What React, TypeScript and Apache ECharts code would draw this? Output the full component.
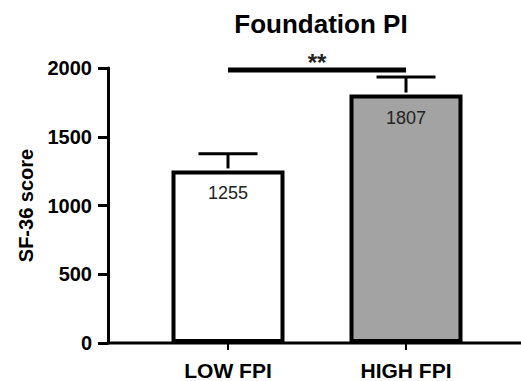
import React, { useEffect, useRef } from "react";
import * as echarts from "echarts";

const categories = ["LOW FPI", "HIGH FPI"];
const means = [1255, 1807];
const errorUpper = [1377, 1935];
const barColors = ["#ffffff", "#a3a3a3"];
const yMin = 0;
const yMax = 2000;
const yInterval = 500;
const significanceLevel = 1985;
const significanceLabel = "**";
const titleText = "Foundation PI";
const yAxisName = "SF-36 score";

export default function App() {
  const ref = useRef<HTMLDivElement>(null);
  useEffect(() => {
    document.body.style.margin = "0";
    const chart = echarts.init(ref.current!, null, { renderer: "svg" });
    const font = "'Liberation Sans', Arial, sans-serif";
    const W = 521;
    const gridLeft = 139, gridRight = 26, gridTop = 68, gridBottom = 37;
    const yOffset = 31;
    chart.setOption({
      animation: false,
      backgroundColor: "#ffffff",
      title: {
        text: titleText,
        left: 316,
        top: 6,
        textAlign: "center",
        textStyle: { fontFamily: font, fontWeight: "bold", fontSize: 26, color: "#000" },
      },
      grid: { left: gridLeft, right: gridRight, top: gridTop, bottom: gridBottom },
      xAxis: {
        type: "category",
        data: categories,
        axisLine: { show: false },
        axisTick: { show: true, alignWithLabel: true, length: 7, lineStyle: { color: "#000", width: 2 } },
        axisLabel: { fontFamily: font, fontWeight: "bold", fontSize: 21, color: "#000", margin: 17 },
      },
      yAxis: {
        type: "value",
        min: yMin,
        max: yMax,
        interval: yInterval,
        offset: yOffset,
        name: yAxisName,
        nameLocation: "middle",
        nameGap: 72,
        nameTextStyle: { fontFamily: font, fontWeight: "bold", fontSize: 20, color: "#000" },
        axisLine: { show: true, lineStyle: { color: "#000", width: 3 } },
        axisTick: { show: true, length: 10, lineStyle: { color: "#000", width: 3 } },
        axisLabel: {
          fontFamily: font,
          fontWeight: "bold",
          fontSize: 20,
          color: "#000",
          margin: 16,
          formatter: (v: number) => String(v),
        },
        splitLine: { show: false },
      },
      series: [
        {
          type: "bar",
          barWidth: 113,
          data: means.map((v, i) => ({
            value: v,
            itemStyle: { color: barColors[i], borderColor: "#000", borderWidth: 4 },
          })),
          label: {
            show: true,
            position: "insideTop",
            distance: 14,
            fontFamily: font,
            fontSize: 18,
            color: "#222",
          },
          z: 2,
        },
        {
          type: "custom",
          encode: { x: 0, y: [1, 2] },
          data: categories.map((_, i) => [i, means[i], errorUpper[i]]),
          renderItem: (params: any, api: any) => {
            const base = api.coord([api.value(0), api.value(1)]);
            const top = api.coord([api.value(0), api.value(2)]);
            const half = 29.5;
            return {
              type: "group",
              children: [
                { type: "line", shape: { x1: base[0], y1: base[1] - 2, x2: top[0], y2: top[1] }, style: { stroke: "#000", lineWidth: 3 } },
                { type: "line", shape: { x1: top[0] - half, y1: top[1], x2: top[0] + half, y2: top[1] }, style: { stroke: "#000", lineWidth: 3 } },
              ],
            };
          },
          z: 3,
        },
        {
          type: "custom",
          encode: { x: 0, y: 2 },
          data: [[0, 1, significanceLevel]],
          renderItem: (params: any, api: any) => {
            const a = api.coord([api.value(0), api.value(2)]);
            const b = api.coord([api.value(1), api.value(2)]);
            return {
              type: "group",
              children: [
                { type: "line", shape: { x1: a[0], y1: a[1], x2: b[0], y2: b[1] }, style: { stroke: "#000", lineWidth: 5 } },
                {
                  type: "text",
                  x: (a[0] + b[0]) / 2,
                  y: a[1] - 20,
                  style: { text: significanceLabel, fontFamily: font, fontSize: 24, fontWeight: "bold", fill: "#222", align: "center", verticalAlign: "top" },
                },
              ],
            };
          },
          z: 3,
        },
      ],
    });
    const y0 = chart.convertToPixel({ yAxisIndex: 0 }, yMin) as number;
    chart.setOption({
      graphic: [
        {
          type: "line",
          shape: { x1: gridLeft - yOffset, y1: y0, x2: W, y2: y0 },
          style: { stroke: "#000", lineWidth: 3 },
          z: 10,
        },
      ],
    });
    return () => chart.dispose();
  }, []);
  return <div ref={ref} style={{ width: 521, height: 381 }} />;
}
